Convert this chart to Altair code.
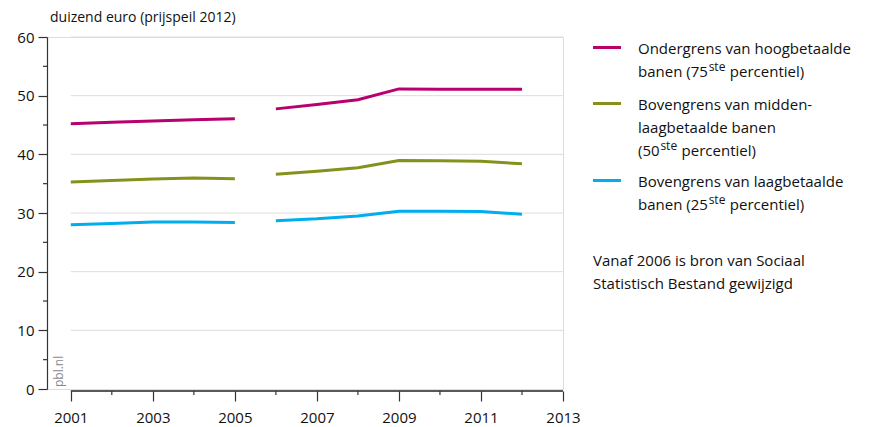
import altair as alt
import pandas as pd

# ---- data ----
years = [2001, 2002, 2003, 2004, 2005, 2006, 2007, 2008, 2009, 2010, 2011, 2012]
periods = [1, 1, 1, 1, 1, 2, 2, 2, 2, 2, 2, 2]
p75 = [45.2, 45.45, 45.7, 45.9, 46.05, 47.75, 48.5, 49.3, 51.15, 51.1, 51.1, 51.1]
p50 = [35.3, 35.55, 35.8, 35.95, 35.85, 36.6, 37.1, 37.7, 38.95, 38.9, 38.8, 38.4]
p25 = [28.0, 28.2, 28.45, 28.45, 28.4, 28.7, 29.0, 29.5, 30.3, 30.3, 30.25, 29.8]
series_keys = ["p75", "p50", "p25"]
series_colors = ["#B8006E", "#84921C", "#00AEEF"]
# each legend line: (main text, superscript, text after superscript)
legend_lines = [
    [("Ondergrens van hoogbetaalde", "", ""), ("banen (75", "ste", "percentiel)")],
    [("Bovengrens van midden-", "", ""), ("laagbetaalde banen", "", ""), ("(50", "ste", "percentiel)")],
    [("Bovengrens van laagbetaalde", "", ""), ("banen (25", "ste", "percentiel)")],
]
note_lines = ["Vanaf 2006 is bron van Sociaal", "Statistisch Bestand gewijzigd"]
y_title = "duizend euro (prijspeil 2012)"
y_major = [0, 10, 20, 30, 40, 50, 60]
y_minor = [5, 15, 25, 35, 45, 55]
grid_vals = [10, 20, 30, 40, 50, 60]
x_major = [2001, 2003, 2005, 2007, 2009, 2011, 2013]
x_minor = [2002, 2004, 2006, 2008, 2010, 2012]

FONT = "Open Sans"
W, H = 516, 352
FS = 15
SUP_FS = 12

# approximate Open Sans advance widths (em units) for placing superscripts
ADV = {"b": 0.613, "a": 0.556, "n": 0.613, "e": 0.561, " ": 0.26, "(": 0.296,
       "0": 0.572, "1": 0.572, "2": 0.572, "5": 0.572, "7": 0.572, "s": 0.479, "t": 0.361}


def text_width(s, fs):
    return sum(ADV.get(c, 0.56) for c in s) * fs


rows = []
for key, vals in zip(series_keys, [p75, p50, p25]):
    for yr, per, v in zip(years, periods, vals):
        rows.append({"year": yr, "value": v, "series": key, "period": per})
df = pd.DataFrame(rows)

xscale = alt.Scale(domain=[2000.42, 2013], nice=False, zero=False)
yscale = alt.Scale(domain=[0, 60], nice=False)
yaxis = alt.Axis(values=y_major, tickSize=9, domainColor="#333333", tickColor="#333333",
                 labelFontSize=FS, labelFont=FONT, labelColor="#111111", labelPadding=4,
                 grid=False, title=None, domainWidth=1.2, tickWidth=1.2)
xaxis = alt.Axis(values=x_major, tickSize=10, offset=2, domain=False, tickColor="#333333",
                 labelFontSize=FS, labelFont=FONT, labelColor="#111111", labelPadding=9,
                 grid=False, title=None, format="d", tickWidth=1.2, labelFlush=False)

X = lambda f: alt.X(f, type="quantitative", scale=xscale, axis=xaxis)
Y = lambda f: alt.Y(f, type="quantitative", scale=yscale, axis=yaxis)

grid_df = pd.DataFrame({"v": grid_vals, "x1": [x_major[0]] * len(grid_vals), "x2": [x_major[-1]] * len(grid_vals)})
grid = alt.Chart(grid_df).mark_rule(color="#dddddd", strokeWidth=1).encode(
    x=X("x1"), x2="x2", y=Y("v"))

base_df = pd.DataFrame({"x1": [x_major[0]], "x2": [x_major[-1]]})
xbase = alt.Chart(base_df).mark_rule(color="#222222", strokeWidth=1.5).encode(
    x=X("x1"), x2="x2", y=alt.value(H + 2))

xminor = alt.Chart(pd.DataFrame({"yr": x_minor})).mark_rule(color="#333333", strokeWidth=1.2).encode(
    x=X("yr"), y=alt.value(H + 2), y2=alt.value(H + 6))

yminor = alt.Chart(pd.DataFrame({"v": y_minor})).mark_rule(color="#333333", strokeWidth=1.2).encode(
    y=Y("v"), x=alt.value(0), x2=alt.value(-4))

lines = alt.Chart(df).mark_line(strokeWidth=3).encode(
    x=X("year"), y=Y("value"),
    color=alt.Color("series:N", scale=alt.Scale(domain=series_keys, range=series_colors), legend=None),
    detail="period:N")

layers = [grid, xbase, xminor, yminor, lines]


def txt(t, x, y, fs=FS, color="#111111", **kw):
    return alt.Chart(base_df).mark_text(align="left", baseline="middle", font=FONT,
                                        fontSize=fs, color=color, **kw).encode(
        x=alt.value(x), y=alt.value(y), text=alt.value(t))


# y title
layers.append(alt.Chart(base_df).mark_text(align="left", baseline="alphabetic", font=FONT,
                                            fontSize=14, color="#111111").encode(
    x=alt.value(3), y=alt.value(-15.5), text=alt.value(y_title)))

# pbl.nl
layers.append(txt("pbl.nl", 12, H - 2, fs=12, color="#8a8a8a", angle=270))

# legend
sym_y = [10.5, 66.5, 143.5]
LH = 23
TX = 591
for color, sy, lines_txt in zip(series_colors, sym_y, legend_lines):
    layers.append(alt.Chart(base_df).mark_rule(color=color, strokeWidth=3).encode(
        x=alt.value(546), x2=alt.value(574), y=alt.value(sy)))
    for i, (main, sup, after) in enumerate(lines_txt):
        ly = sy + 1 + i * LH
        layers.append(txt(main, TX, ly))
        if sup:
            sx = TX + text_width(main, FS) + 0.8
            layers.append(txt(sup, sx, ly - 5, fs=SUP_FS))
            ax = sx + text_width(sup, SUP_FS) + text_width(" ", FS) + 0.5
            layers.append(txt(after, ax, ly))
for i, t in enumerate(note_lines):
    layers.append(txt(t, 546, 224 + i * LH))

chart = alt.layer(*layers).properties(
    width=W, height=H,
    autosize=alt.AutoSizeParams(type="none"),
    padding={"left": 39, "top": 29, "right": 300, "bottom": 36},
).configure_view(stroke=None).configure_axisX(domain=False).configure(font=FONT)

chart.save("out.html", embed_options={"renderer": "svg", "actions": False})
